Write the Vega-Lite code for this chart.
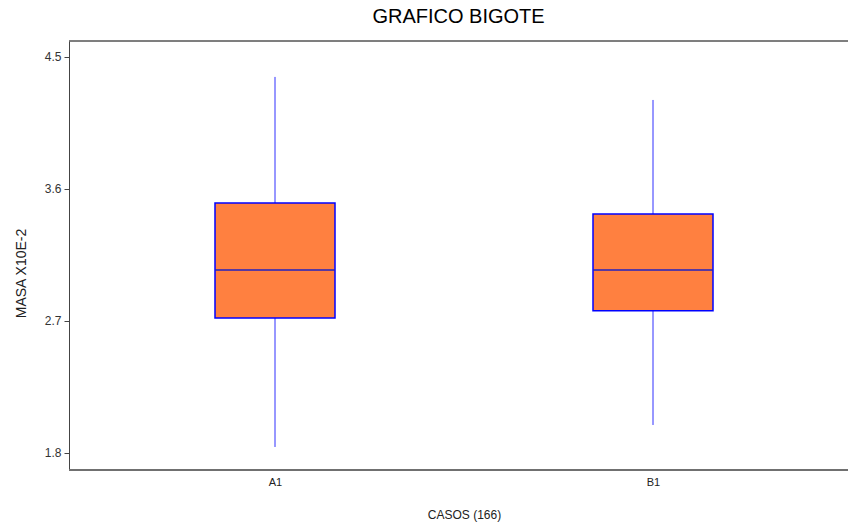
{
  "$schema": "https://vega.github.io/schema/vega-lite/v6.json",
  "width": 779,
  "height": 429,
  "autosize": "none",
  "padding": {"left": 69, "top": 41, "right": 0, "bottom": 58},
  "background": "white",
  "title": {
    "text": "GRAFICO BIGOTE",
    "font": "Liberation Sans",
    "fontSize": 20,
    "fontWeight": "normal",
    "color": "#000000",
    "anchor": "middle",
    "frame": "group",
    "offset": 14
  },
  "config": {
    "view": {"stroke": null},
    "font": "Liberation Sans"
  },
  "data": {
    "values": [
      {"caso": "A1", "lower": 1.841, "q1": 2.721, "median": 3.048, "q3": 3.505, "upper": 4.364},
      {"caso": "B1", "lower": 1.991, "q1": 2.769, "median": 3.048, "q3": 3.430, "upper": 4.207}
    ]
  },
  "layer": [
    {
      "mark": {"type": "rule", "color": "#555555", "strokeWidth": 1},
      "encoding": {
        "y": {
          "datum": 4.609,
          "type": "quantitative",
          "scale": {"domain": [1.684, 4.609], "nice": false, "zero": false},
          "axis": {
            "title": "MASA X10E-2",
            "titleFont": "Liberation Sans",
            "titleFontSize": 14,
            "titleFontWeight": "normal",
            "titleColor": "#222222",
            "titlePadding": 16,
            "titleY": 232,
            "values": [1.8, 2.7, 3.6, 4.5],
            "format": ".1f",
            "labelFontSize": 12,
            "labelColor": "#333333",
            "labelPadding": 3,
            "tickSize": 5,
            "tickColor": "#444444",
            "domainColor": "#444444",
            "grid": false
          }
        }
      }
    },
    {
      "mark": {"type": "rule", "color": "#707070", "strokeWidth": 2},
      "encoding": {
        "y": {"datum": 1.684, "type": "quantitative"}
      }
    },
    {
      "mark": {"type": "rule", "color": "#3030ff", "strokeWidth": 1},
      "encoding": {
        "x": {
          "field": "caso",
          "type": "nominal",
          "scale": {"type": "point", "range": [206, 584], "padding": 0},
          "axis": {
            "title": "CASOS (166)",
            "titleFont": "Liberation Sans",
            "titleFontSize": 12,
            "titleFontWeight": "normal",
            "titleColor": "#222222",
            "titlePadding": 22,
            "labelAngle": 0,
            "labelFontSize": 11,
            "labelColor": "#222222",
            "labelPadding": 6,
            "ticks": false,
            "domain": false
          }
        },
        "y": {"field": "lower", "type": "quantitative"},
        "y2": {"field": "upper"}
      }
    },
    {
      "mark": {"type": "bar", "size": 120, "fill": "#ff8040", "stroke": "#0000ff", "strokeWidth": 1.5},
      "encoding": {
        "x": {"field": "caso", "type": "nominal"},
        "y": {"field": "q1", "type": "quantitative"},
        "y2": {"field": "q3"}
      }
    },
    {
      "mark": {"type": "tick", "size": 120, "thickness": 1.5, "color": "#2020c0", "opacity": 1},
      "encoding": {
        "x": {"field": "caso", "type": "nominal"},
        "y": {"field": "median", "type": "quantitative"}
      }
    }
  ]
}
